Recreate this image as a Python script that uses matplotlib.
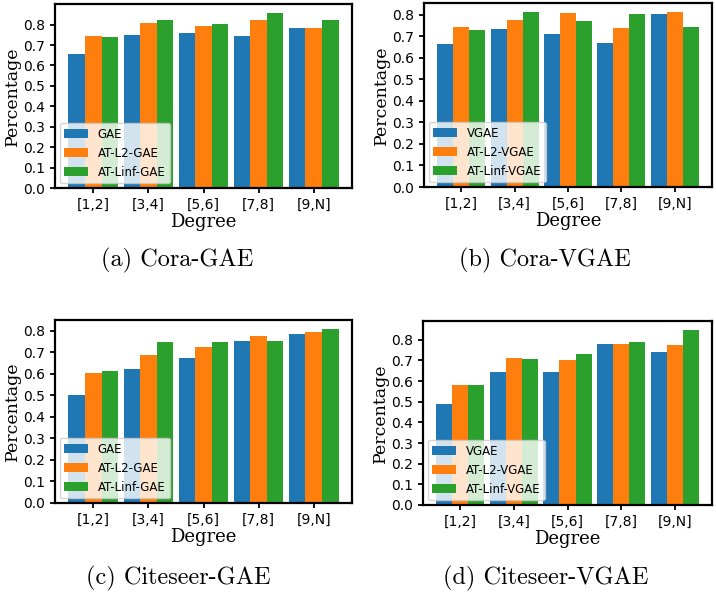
import numpy as np
import matplotlib
matplotlib.use("Agg")
from matplotlib import pyplot as plt

degrees = ["[1,2]", "[3,4]", "[5,6]", "[7,8]", "[9,N]"]

cora_gae = [0.658, 0.751, 0.760, 0.746, 0.785]
cora_l2_gae = [0.746, 0.809, 0.795, 0.824, 0.785]
cora_linf_gae = [0.741, 0.824, 0.805, 0.858, 0.824]

cora_vgae = [0.665, 0.734, 0.711, 0.669, 0.804]
cora_l2_vgae = [0.744, 0.776, 0.809, 0.739, 0.814]
cora_linf_vgae = [0.730, 0.814, 0.772, 0.804, 0.744]

cite_gae = [0.499, 0.624, 0.675, 0.754, 0.786]
cite_l2_gae = [0.605, 0.689, 0.726, 0.777, 0.795]
cite_linf_gae = [0.615, 0.749, 0.749, 0.754, 0.809]

cite_vgae = [0.487, 0.646, 0.646, 0.781, 0.742]
cite_l2_vgae = [0.583, 0.713, 0.704, 0.781, 0.776]
cite_linf_vgae = [0.583, 0.708, 0.733, 0.790, 0.848]

colors = ["#1f77b4", "#ff7f0e", "#2ca02c"]

W, H = 716, 594
fig = plt.figure(figsize=(W / 100, H / 100), dpi=100)


def px_axes(left, top, right, bottom):
    return fig.add_axes([left / W, 1 - bottom / H, (right - left) / W, (bottom - top) / H])


def draw_panel(ax, series, names):
    x = np.arange(len(degrees))
    width = 0.3
    for i, (vals, name) in enumerate(zip(series, names)):
        ax.bar(x + (i - 1) * width, vals, width, color=colors[i], label=name)
    ax.set_xticks(x)
    ax.set_xticklabels(degrees)
    ax.set_yticks(np.arange(0, 0.81, 0.1))
    ax.set_yticklabels([f"{v:.1f}" for v in np.arange(0, 0.81, 0.1)])
    ax.tick_params(labelsize=10, length=3.5, width=1.3, direction="out")
    for s in ax.spines.values():
        s.set_linewidth(1.6)
    ax.set_xlabel("Degree", family="DejaVu Serif", fontsize=13, labelpad=1)
    ax.set_ylabel("Percentage", family="DejaVu Serif", fontsize=12.5, labelpad=2)
    ax.legend(loc="lower left", fontsize=8.5, borderaxespad=0.4)


panels = [
    (px_axes(55, 4, 352, 188), [cora_gae, cora_l2_gae, cora_linf_gae],
     ["GAE", "AT-L2-GAE", "AT-Linf-GAE"]),
    (px_axes(424, 3, 712, 187), [cora_vgae, cora_l2_vgae, cora_linf_vgae],
     ["VGAE", "AT-L2-VGAE", "AT-Linf-VGAE"]),
    (px_axes(55, 320, 352, 503), [cite_gae, cite_l2_gae, cite_linf_gae],
     ["GAE", "AT-L2-GAE", "AT-Linf-GAE"]),
    (px_axes(423, 321, 712, 505), [cite_vgae, cite_l2_vgae, cite_linf_vgae],
     ["VGAE", "AT-L2-VGAE", "AT-Linf-VGAE"]),
]
for ax, series, names in panels:
    draw_panel(ax, series, names)

captions = [
    ("(a) Cora-GAE", 177, 260),
    ("(b) Cora-VGAE", 545, 260),
    ("(c) Citeseer-GAE", 178, 578),
    ("(d) Citeseer-VGAE", 546, 578),
]
for t, cx, cy in captions:
    fig.text(cx / W, 1 - cy / H, t, family="cmr10", fontsize=17.5,
             ha="center", va="center")

fig.savefig("out.png", dpi=100)
